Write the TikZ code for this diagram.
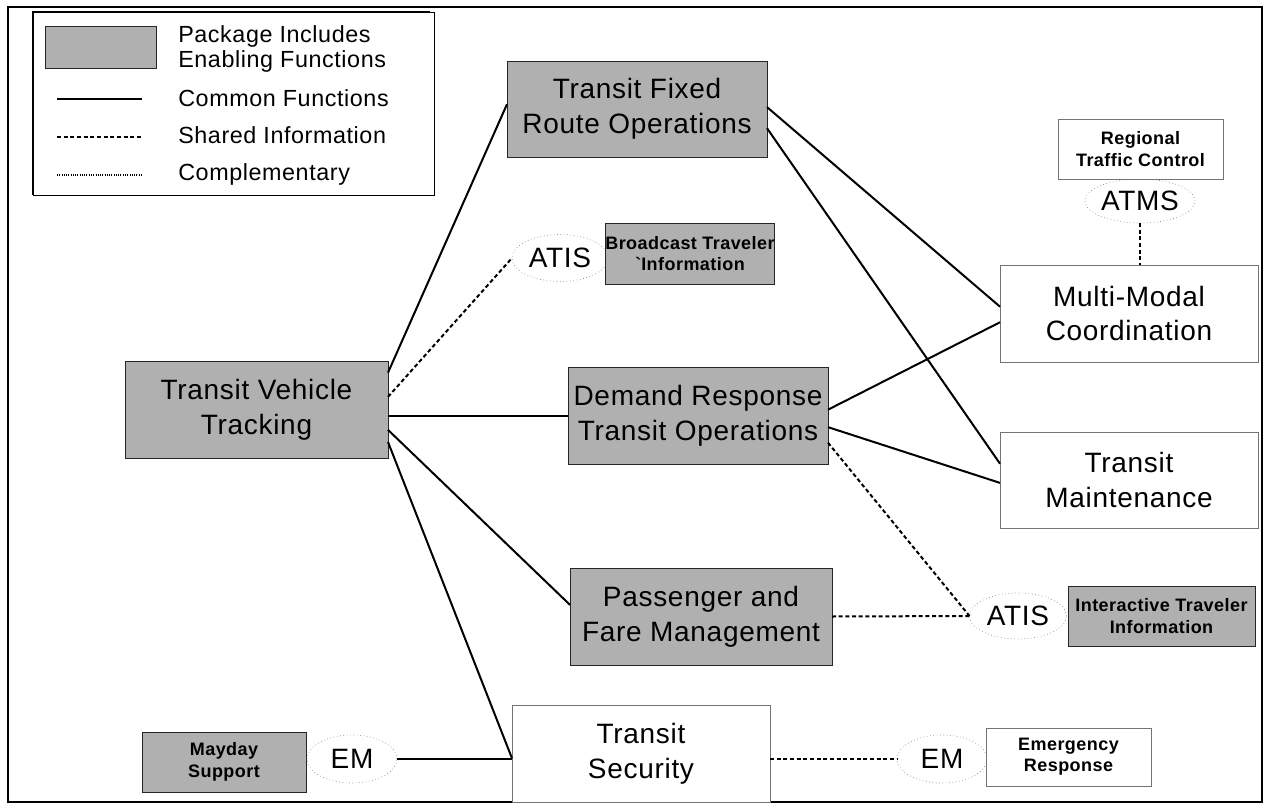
\documentclass[tikz,border=0pt]{standalone}
\usepackage{fontspec}
\setmainfont{Liberation Sans}
\newfontfamily\labfont[LetterSpace=2.5]{Liberation Sans}
\usetikzlibrary{shapes.geometric,calc}
\definecolor{pkggray}{RGB}{176,176,176}
\newcommand{\biglab}{\labfont\fontsize{21}{26}\selectfont}
\newcommand{\leglab}{\labfont\fontsize{17.5}{20}\selectfont}
\newcommand{\smallb}{\labfont\bfseries\fontsize{13.5}{16}\selectfont}
\tikzset{
  sz/.style 2 args={minimum width=#1*0.75pt, minimum height=#2*0.75pt},
  gbox/.style={draw=black!85, line width=0.6pt, fill=pkggray, inner sep=0pt, outer sep=0pt, align=center, font=\biglab},
  wbox/.style={draw=black!55, line width=0.6pt, fill=white, inner sep=0pt, outer sep=0pt, align=center, font=\biglab},
  sgbox/.style={gbox, font=\smallb},
  swbox/.style={wbox, font=\smallb},
  oval/.style={ellipse, draw=black!45, dotted, line width=0.5pt, fill=white, inner sep=0pt, outer sep=0pt, font=\biglab},
  common/.style={line width=1.5pt},
  shared/.style={line width=1.5pt, dash pattern=on 3pt off 2pt},
  compl/.style={line width=0.9pt, dash pattern=on 0.6pt off 1.1pt},
  legtext/.style={anchor=base west, inner sep=0pt, font=\leglab}
}
\begin{document}
\begin{tikzpicture}[x=0.75pt, y=-0.75pt]
\useasboundingbox (0,0) rectangle (1265,807);
% outer frame
\draw[line width=1.3pt] (8,7) rectangle (1262,802);
% legend
\draw[line width=0.6pt] (33,12) rectangle (434,195);
\draw[line width=2.2pt] (33,195) -- (33,12) -- (430,12);
\node[gbox, sz={111}{42}] (legsw) at (100.5,47) {};
\node[legtext] (legt1) at (178,42) {Package Includes};
\node[legtext] (legt2) at (178,67) {Enabling Functions};
\node[legtext] (legt3) at (178,106) {Common Functions};
\node[legtext] (legt4) at (178,143) {Shared Information};
\node[legtext] (legt5) at (178,180) {Complementary};
\coordinate (lc1a) at (57,99);  \coordinate (lc1b) at (142,99);
\coordinate (lc2a) at (57,137); \coordinate (lc2b) at (142,137);
\coordinate (lc3a) at (57,175); \coordinate (lc3b) at (142,175);
\draw[common] (lc1a) -- (lc1b);
\draw[shared] (lc2a) -- (lc2b);
\draw[compl] (lc3a) -- (lc3b);

% main nodes
\node[gbox, sz={263}{97}] (tvt) at (256.5,409.5) {Transit Vehicle\\Tracking};
\node[gbox, sz={260}{96}] (tfro) at (637,109) {Transit Fixed\\Route Operations};
\node[gbox, sz={260}{97}] (drto) at (698,415.5) {Demand Response\\Transit Operations};
\node[gbox, sz={262}{97}] (pfm) at (701,616.5) {Passenger and\\Fare Management};
\node[wbox, sz={258}{97}] (mmc) at (1129,313.5) {Multi-Modal\\Coordination};
\node[wbox, sz={258}{96}] (tm) at (1129,480) {Transit\\Maintenance};
\node[wbox, sz={258}{97}] (ts) at (641,753.5) {Transit\\Security};

% ATIS broadcast
\node[oval, sz={96}{47}] (atis1) at (560,258) {ATIS};
\node[sgbox, sz={164}{61}] (bti) at (690,253.5) {Broadcast Traveler\\\textasciigrave Information};
% ATIS interactive
\node[oval, sz={97}{46}] (atis2) at (1018,616) {ATIS};
\node[sgbox, sz={187}{60}] (iti) at (1161.5,616) {Interactive Traveler\\Information};
% ATMS
\node[oval, sz={106}{44}] (atms) at (1140,201) {ATMS};
\node[swbox, sz={165}{60}] (rtc) at (1140.5,149) {Regional\\Traffic Control};
% EM
\node[sgbox, sz={164}{60}] (mds) at (224,762) {Mayday\\Support};
\node[oval, sz={90}{48}] (em1) at (352,759) {EM};
\node[oval, sz={90}{48}] (em2) at (942,759) {EM};
\node[swbox, sz={165}{58}] (er) at (1068.5,757) {Emergency\\Response};

% connectors from Transit Vehicle Tracking
\draw[common] ($(tvt.north east)!0.12!(tvt.south east)$) -- ($(tfro.north west)!0.45!(tfro.south west)$);
\draw[shared] ($(tvt.north east)!0.37!(tvt.south east)$) -- (atis1.west);
\draw[common] (drto.west -| tvt.east) -- (drto.west);
\draw[common] ($(tvt.north east)!0.71!(tvt.south east)$) -- ($(pfm.north west)!0.38!(pfm.south west)$);
\draw[common] ($(tvt.north east)!0.835!(tvt.south east)$) -- ($(ts.north west)!0.55!(ts.south west)$);
% Transit Fixed Route Operations
\draw[common] ($(tfro.north east)!0.48!(tfro.south east)$) -- ($(mmc.north west)!0.43!(mmc.south west)$);
\draw[common] ($(tfro.north east)!0.70!(tfro.south east)$) -- ($(tm.north west)!0.33!(tm.south west)$);
% Demand Response
\draw[common] ($(drto.north east)!0.44!(drto.south east)$) -- ($(mmc.north west)!0.59!(mmc.south west)$);
\draw[common] ($(drto.north east)!0.62!(drto.south east)$) -- ($(tm.north west)!0.53!(tm.south west)$);
\draw[shared] ($(drto.north east)!0.78!(drto.south east)$) -- (atis2.west);
% Passenger and Fare
\draw[shared] (pfm.east) -- (atis2.west);
% ATMS
\draw[shared] (atms.south) -- (atms.south |- mmc.north);
% EM connections
\draw[common] (em1.east) -- (em1.east -| ts.west);
\draw[shared] (em2.west -| ts.east) -- (em2.west);
\end{tikzpicture}
\end{document}
